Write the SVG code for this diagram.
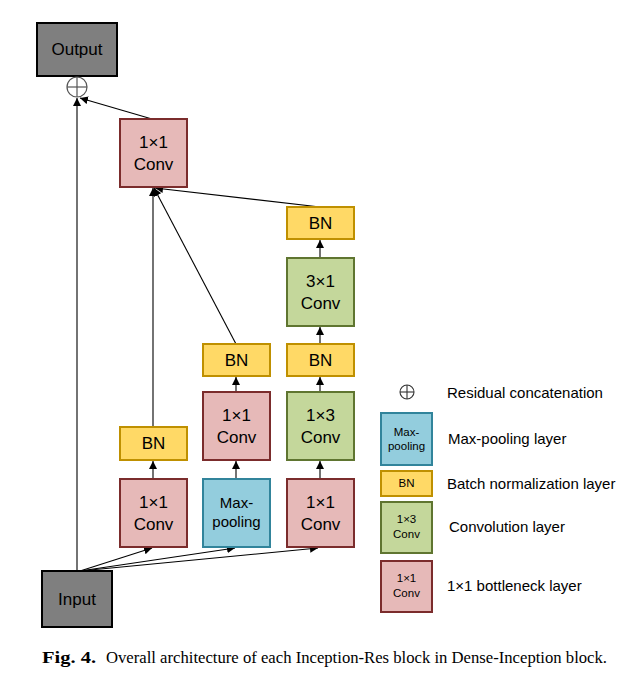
<svg xmlns="http://www.w3.org/2000/svg" width="643" height="679" viewBox="0 0 643 679">
<defs>
<marker id="ah" viewBox="0 0 10 10" refX="10" refY="5" markerWidth="8" markerHeight="8" markerUnits="userSpaceOnUse" orient="auto">
<path d="M0,0 L10,5 L0,10 z" fill="#000"/>
</marker>
</defs>
<style>
text{font-family:"Liberation Sans",Arial,sans-serif;fill:#000}
.t{font-size:17px;text-anchor:middle}
.ts{font-size:11.5px;text-anchor:middle}
.lg{font-size:15px}
.gray{fill:#7f7f7f;stroke:#000;stroke-width:2}
.conv{fill:#e6b9b8;stroke:#7b2c2c;stroke-width:2}
.bn{fill:#ffd966;stroke:#bf9000;stroke-width:2}
.green{fill:#c4d79b;stroke:#5f7530;stroke-width:2}
.blue{fill:#93cddd;stroke:#31849b;stroke-width:2}
.c{stroke:#000;stroke-width:1.1;fill:none;marker-end:url(#ah)}
.cap{font-family:"Liberation Serif","Times New Roman",serif;font-size:16px}
</style>
<rect width="643" height="679" fill="#fff"/>

<g id="connectors">
<line class="c" x1="77" y1="571" x2="77" y2="98"/>
<line class="c" x1="152" y1="119" x2="80" y2="98"/>
<line class="c" x1="153" y1="427" x2="153" y2="188"/>
<line class="c" x1="236" y1="344" x2="154" y2="188"/>
<line class="c" x1="320" y1="207" x2="155" y2="188"/>
<line class="c" x1="320" y1="258" x2="320" y2="240"/>
<line class="c" x1="320" y1="344" x2="320" y2="327"/>
<line class="c" x1="320" y1="392" x2="320" y2="377"/>
<line class="c" x1="320" y1="479" x2="320" y2="461"/>
<line class="c" x1="236" y1="392" x2="236" y2="377"/>
<line class="c" x1="236" y1="479" x2="236" y2="461"/>
<line class="c" x1="153" y1="479" x2="153" y2="461"/>
<line class="c" x1="80" y1="571" x2="152" y2="548"/>
<line class="c" x1="80" y1="571" x2="235" y2="548"/>
<line class="c" x1="80" y1="571" x2="318" y2="548"/>
</g>

<g id="output">
<rect class="gray" x="37" y="23" width="80" height="53"/>
<text class="t" x="77" y="55">Output</text>
</g>
<g id="residual">
<circle cx="77" cy="87" r="10" fill="#fff" stroke="#555" stroke-width="1.2"/>
<line x1="67" y1="87" x2="87" y2="87" stroke="#555" stroke-width="1.2"/>
<line x1="77" y1="77" x2="77" y2="97" stroke="#555" stroke-width="1.2"/>
</g>
<g id="conv_top">
<rect class="conv" x="120" y="119" width="67" height="68"/>
<text class="t" x="153.5" y="148">1×1</text>
<text class="t" x="153.5" y="170">Conv</text>
</g>
<g id="bn_c3_top">
<rect class="bn" x="287" y="207" width="67" height="32"/>
<text class="t" x="320.5" y="229">BN</text>
</g>
<g id="conv3x1">
<rect class="green" x="287" y="258" width="67" height="68"/>
<text class="t" x="320.5" y="287">3×1</text>
<text class="t" x="320.5" y="309">Conv</text>
</g>
<g id="bn_c2">
<rect class="bn" x="203" y="344" width="67" height="32"/>
<text class="t" x="236.5" y="366">BN</text>
</g>
<g id="bn_c3">
<rect class="bn" x="287" y="344" width="67" height="32"/>
<text class="t" x="320.5" y="366">BN</text>
</g>
<g id="conv_c2">
<rect class="conv" x="203" y="392" width="67" height="68"/>
<text class="t" x="236.5" y="421">1×1</text>
<text class="t" x="236.5" y="443">Conv</text>
</g>
<g id="conv1x3">
<rect class="green" x="287" y="392" width="67" height="68"/>
<text class="t" x="320.5" y="421">1×3</text>
<text class="t" x="320.5" y="443">Conv</text>
</g>
<g id="bn_c1">
<rect class="bn" x="120" y="427" width="67" height="33"/>
<text class="t" x="153.5" y="449">BN</text>
</g>
<g id="conv_c1">
<rect class="conv" x="120" y="479" width="67" height="68"/>
<text class="t" x="153.5" y="508">1×1</text>
<text class="t" x="153.5" y="530">Conv</text>
</g>
<g id="maxpool">
<rect class="blue" x="203" y="479" width="67" height="68"/>
<text class="t" x="236.5" y="508" style="font-size:15px">Max-</text>
<text class="t" x="236.5" y="527" style="font-size:15px">pooling</text>
</g>
<g id="conv_c3">
<rect class="conv" x="287" y="479" width="67" height="68"/>
<text class="t" x="320.5" y="508">1×1</text>
<text class="t" x="320.5" y="530">Conv</text>
</g>
<g id="input">
<rect class="gray" x="42" y="571" width="70" height="56"/>
<text class="t" x="77" y="605">Input</text>
</g>

<g id="legend">
<circle cx="407" cy="392" r="7" fill="#fff" stroke="#333" stroke-width="1.1"/>
<line x1="400" y1="392" x2="414" y2="392" stroke="#333" stroke-width="1.1"/>
<line x1="407" y1="385" x2="407" y2="399" stroke="#333" stroke-width="1.1"/>
<text class="lg" x="447" y="398">Residual concatenation</text>
<rect class="blue" x="381" y="413" width="51" height="52"/>
<text class="ts" x="406.5" y="436">Max-</text>
<text class="ts" x="406.5" y="450">pooling</text>
<text class="lg" x="448" y="444">Max-pooling layer</text>
<rect class="bn" x="381" y="471" width="51" height="25"/>
<text class="ts" x="406.5" y="487">BN</text>
<text class="lg" x="447" y="489">Batch normalization layer</text>
<rect class="green" x="381" y="502" width="51" height="51"/>
<text class="ts" x="406.5" y="523">1×3</text>
<text class="ts" x="406.5" y="538">Conv</text>
<text class="lg" x="449" y="532">Convolution layer</text>
<rect class="conv" x="381" y="561" width="51" height="51"/>
<text class="ts" x="406.5" y="582">1×1</text>
<text class="ts" x="406.5" y="597">Conv</text>
<text class="lg" x="447" y="591">1×1 bottleneck layer</text>
</g>

<g id="caption">
<text class="cap" x="42" y="663" font-weight="bold" textLength="54" lengthAdjust="spacingAndGlyphs">Fig. 4.</text>
<text class="cap" x="106" y="663" textLength="501" lengthAdjust="spacingAndGlyphs">Overall architecture of each Inception-Res block in Dense-Inception block.</text>
</g>
</svg>
